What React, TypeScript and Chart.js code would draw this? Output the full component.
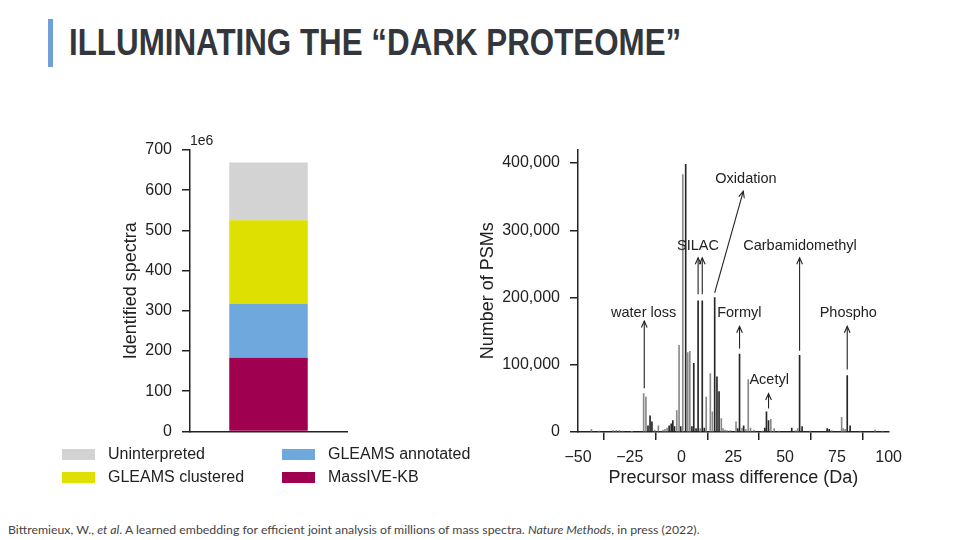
import React, { useEffect, useRef } from 'react';
import { Chart, registerables } from 'chart.js';

Chart.register(...registerables);

// ---------- Text ----------
const slideTitle = 'ILLUMINATING THE \u201CDARK PROTEOME\u201D';

// ---------- Left chart data (values in millions of spectra) ----------
const stackCategories = ['Spectra'];
const stackLabels = ['MassIVE-KB', 'GLEAMS annotated', 'GLEAMS clustered', 'Uninterpreted'];
const stackValues = [183, 134, 208, 144];
const stackColors = ['#a00050', '#6fa8dc', '#dde000', '#d3d3d3'];
const leftTickValues = [0, 100, 200, 300, 400, 500, 600, 700];
const leftAxisTitle = 'Identified spectra';
const leftScaleNote = '1e6';

// ---------- Right chart data ----------
const grayMass = [-43.5, -40, -33, -31.5, -30, -28.5, -24, -18.3, -17.2, -13, -11.2, -9, -8, -7, -2.3, -1.2,
  0.6, 3.0, 4.0, 9.0, 11.9, 13.9, 14.9, 19.2, 20.0, 21, 22, 23.5, 26.3, 29.2, 31, 32.2, 33.3, 35, 39,
  43.1, 44.7, 47, 55, 56.1, 62, 72.5, 77.3, 78, 79, 86, 93.5, 97];
const grayCount = [4000, 1500, 2000, 2500, 2000, 1500, 1000, 57000, 52000, 3000, 9000, 3000, 4000, 6000, 32000, 129000,
  383000, 118000, 120000, 5000, 52000, 87000, 30000, 20000, 5000, 3000, 2000, 2000, 15000, 6000, 4000, 78000, 6000, 3000, 1500,
  19000, 5000, 1500, 2000, 5000, 1500, 2000, 22000, 5000, 4000, 1500, 3000, 1500];
const darkMass = [-16.2, -15.2, -14.3, -6, -5, -4.2, -3.4, -0.4, 2.0, 5.0, 5.9, 7.0, 8.0, 10.0, 11.0, 16.0, 17.1, 18.1,
  27.1, 28.0, 30, 40.2, 41.0, 42.0, 53.2, 57.0, 58.2, 70.3, 71.3, 80.0, 81.4];
const darkCount = [9000, 24000, 15000, 9000, 12000, 17000, 8000, 8000, 398000, 8000, 102000, 5000, 195000, 195000, 6000, 200000, 82000, 60000,
  5000, 116000, 9000, 6000, 30000, 17000, 6000, 114000, 8000, 5000, 4000, 84000, 9000];

const massTicks = [-50, -25, 0, 25, 50, 75, 100];
const psmTicks = [0, 100000, 200000, 300000, 400000];
const massAxisTitle = 'Precursor mass difference (Da)';
const psmAxisTitle = 'Number of PSMs';

// annotations (data coordinates)
const annLabels = ['water loss', 'SILAC', 'Oxidation', 'Formyl', 'Carbamidomethyl', 'Acetyl', 'Phospho'];
const annTextMass = [-18.3, 7.9, 31.1, 27.9, 57.2, 42.3, 80.5];
const annTextCount = [176500, 276000, 377000, 176500, 276000, 77000, 176500];
const arrowFromMass = [-18, 8, 10, 16, 28, 57, 42, 80];
const arrowFromCount = [65000, 205000, 205000, 207000, 124000, 121000, 35000, 93000];
const arrowToMass = [-18, 8, 10, 29.8, 28, 57, 42, 80];
const arrowToCount = [165000, 259000, 259000, 358000, 157000, 259000, 57000, 157000];

const FONT = "'Liberation Sans', Arial, Helvetica, sans-serif";
const INK = '#222222';

function minusFmt(v: number): string {
  return v < 0 ? '\u2212' + Math.abs(v) : String(v);
}

const leftNotePlugin = {
  id: 'leftNote',
  afterDraw(chart: any) {
    const { ctx, chartArea } = chart;
    ctx.save();
    ctx.font = `14px ${FONT}`;
    ctx.fillStyle = INK;
    ctx.textAlign = 'left';
    ctx.textBaseline = 'middle';
    ctx.fillText(leftScaleNote, chartArea.left, chartArea.top - 9);
    ctx.restore();
  },
};

const annotationPlugin = {
  id: 'peakAnnotations',
  afterDatasetsDraw(chart: any) {
    const { ctx } = chart;
    const xs = chart.scales.x;
    const ys = chart.scales.y;
    ctx.save();
    ctx.strokeStyle = INK;
    ctx.lineWidth = 1.1;
    for (let i = 0; i < arrowFromMass.length; i++) {
      const x1 = xs.getPixelForValue(arrowFromMass[i]);
      const y1 = ys.getPixelForValue(arrowFromCount[i]);
      const x2 = xs.getPixelForValue(arrowToMass[i]);
      const y2 = ys.getPixelForValue(arrowToCount[i]);
      ctx.beginPath();
      ctx.moveTo(x1, y1);
      ctx.lineTo(x2, y2);
      ctx.stroke();
      const ang = Math.atan2(y2 - y1, x2 - x1);
      const len = 7;
      const spread = 0.42;
      ctx.beginPath();
      ctx.moveTo(x2 - len * Math.cos(ang - spread), y2 - len * Math.sin(ang - spread));
      ctx.lineTo(x2, y2);
      ctx.lineTo(x2 - len * Math.cos(ang + spread), y2 - len * Math.sin(ang + spread));
      ctx.stroke();
    }
    ctx.font = `14.5px ${FONT}`;
    ctx.fillStyle = INK;
    ctx.textAlign = 'center';
    ctx.textBaseline = 'middle';
    for (let i = 0; i < annLabels.length; i++) {
      ctx.fillText(annLabels[i], xs.getPixelForValue(annTextMass[i]), ys.getPixelForValue(annTextCount[i]));
    }
    ctx.restore();
  },
};

function StackChart() {
  const ref = useRef<HTMLCanvasElement>(null);
  useEffect(() => {
    if (!ref.current) return;
    const chart = new Chart(ref.current, {
      type: 'bar',
      data: {
        labels: stackCategories,
        datasets: stackLabels.map((label, i) => ({
          label,
          data: [stackValues[i]],
          backgroundColor: stackColors[i],
          borderWidth: 0,
          barPercentage: 0.5,
          categoryPercentage: 1,
        })),
      },
      options: {
        responsive: false,
        animation: false,
        layout: { padding: { top: 29, right: 13, left: 0, bottom: 0 } },
        plugins: { legend: { display: false }, tooltip: { enabled: false } },
        scales: {
          x: {
            stacked: true,
            ticks: { display: false },
            grid: { display: false, drawTicks: false },
            border: { display: true, color: INK, width: 1.5 },
            afterFit: (s: any) => { s.height = 18; },
          },
          y: {
            stacked: true,
            min: 0,
            max: 700,
            afterBuildTicks: (s: any) => { s.ticks = leftTickValues.map((v) => ({ value: v })); },
            ticks: { color: INK, font: { family: FONT, size: 16 }, padding: 10 },
            grid: { drawOnChartArea: false, tickLength: 8, color: INK, lineWidth: 1.5 },
            border: { display: true, color: INK, width: 1.5 },
            title: { display: true, text: leftAxisTitle, color: INK, font: { family: FONT, size: 18 }, padding: { top: 10, bottom: 0 } },
            afterFit: (s: any) => { s.width = 80; },
          },
        },
      },
      plugins: [leftNotePlugin],
    } as any);
    return () => chart.destroy();
  }, []);
  return <canvas ref={ref} width={250} height={330} style={{ position: 'absolute', left: 110, top: 121, width: 250, height: 330 }} />;
}

function SpectrumChart() {
  const ref = useRef<HTMLCanvasElement>(null);
  useEffect(() => {
    if (!ref.current) return;
    const chart = new Chart(ref.current, {
      type: 'bar',
      data: {
        datasets: [
          {
            label: 'gray',
            data: grayMass.map((m, i) => ({ x: m, y: grayCount[i] })),
            backgroundColor: '#8a8a8a',
            borderWidth: 0,
            barThickness: 1,
            grouped: false,
          },
          {
            label: 'dark',
            data: darkMass.map((m, i) => ({ x: m, y: darkCount[i] })),
            backgroundColor: '#262626',
            borderWidth: 0,
            barThickness: 1,
            grouped: false,
          },
        ],
      },
      options: {
        responsive: false,
        animation: false,
        layout: { padding: { top: 18, right: 20, left: 0, bottom: 0 } },
        plugins: { legend: { display: false }, tooltip: { enabled: false } },
        scales: {
          x: {
            type: 'linear',
            offset: false,
            min: -50,
            max: 100,
            afterBuildTicks: (s: any) => { s.ticks = massTicks.map((v) => ({ value: v })); },
            ticks: { color: INK, font: { family: FONT, size: 16 }, padding: 8, maxRotation: 0, callback: (v: any) => minusFmt(Number(v)) },
            grid: { drawOnChartArea: false, tickLength: 8, color: INK, lineWidth: 1.5 },
            border: { display: true, color: INK, width: 1.5 },
            title: { display: true, text: massAxisTitle, color: INK, font: { family: FONT, size: 18 }, padding: { top: 0, bottom: 11 } },
            afterFit: (s: any) => { s.height = 68; },
          },
          y: {
            type: 'linear',
            min: 0,
            max: 420000,
            afterBuildTicks: (s: any) => { s.ticks = psmTicks.map((v) => ({ value: v })); },
            ticks: { color: INK, font: { family: FONT, size: 16 }, padding: 10, callback: (v: any) => Number(v).toLocaleString('en-US') },
            grid: { drawOnChartArea: false, tickLength: 8, color: INK, lineWidth: 1.5 },
            border: { display: true, color: INK, width: 1.5 },
            title: { display: true, text: psmAxisTitle, color: INK, font: { family: FONT, size: 18 }, padding: { top: 7, bottom: 0 } },
            afterFit: (s: any) => { s.width = 108; },
          },
        },
      },
      plugins: [annotationPlugin],
    } as any);
    return () => chart.destroy();
  }, []);
  return <canvas ref={ref} width={440} height={370} style={{ position: 'absolute', left: 470, top: 130, width: 440, height: 370 }} />;
}

function Legend() {
  // matplotlib-style two-column legend, filled column-wise, top series first
  const order = stackLabels.map((_, i) => stackLabels.length - 1 - i);
  const colLeft = [62, 282];
  const rowTop = [448, 471];
  return (
    <>
      {order.map((idx, k) => {
        const col = Math.floor(k / 2);
        const row = k % 2;
        return (
          <div key={stackLabels[idx]} style={{ position: 'absolute', left: colLeft[col], top: rowTop[row], height: 12, display: 'flex', alignItems: 'center' }}>
            <div style={{ width: 33, height: 11, background: stackColors[idx] }} />
            <span style={{ marginLeft: 13, font: `16px ${FONT}`, color: INK, whiteSpace: 'nowrap', lineHeight: '12px' }}>{stackLabels[idx]}</span>
          </div>
        );
      })}
    </>
  );
}

export default function App() {
  return (
    <div style={{ position: 'absolute', left: 0, top: 0, width: 960, height: 540, background: '#ffffff', overflow: 'hidden' }}>
      <div style={{ position: 'absolute', left: 48, top: 19, width: 5, height: 48, background: '#6fa0d8' }} />
      <div style={{ position: 'absolute', left: 69, top: 22, font: `bold 37px 'Liberation Sans Narrow', 'Liberation Sans', sans-serif`, color: '#33373d', whiteSpace: 'nowrap', lineHeight: '42px', transform: 'scaleX(0.847)', transformOrigin: '0 0' }}>
        {slideTitle}
      </div>
      <StackChart />
      <Legend />
      <SpectrumChart />
      <div style={{ position: 'absolute', left: 8, top: 522, font: `12.3px Lato, 'Open Sans', sans-serif`, color: '#444', whiteSpace: 'nowrap' }}>
        Bittremieux, W., <i>et al</i>. A learned embedding for efficient joint analysis of millions of mass spectra. <i>Nature Methods</i>, in press (2022).
      </div>
    </div>
  );
}
